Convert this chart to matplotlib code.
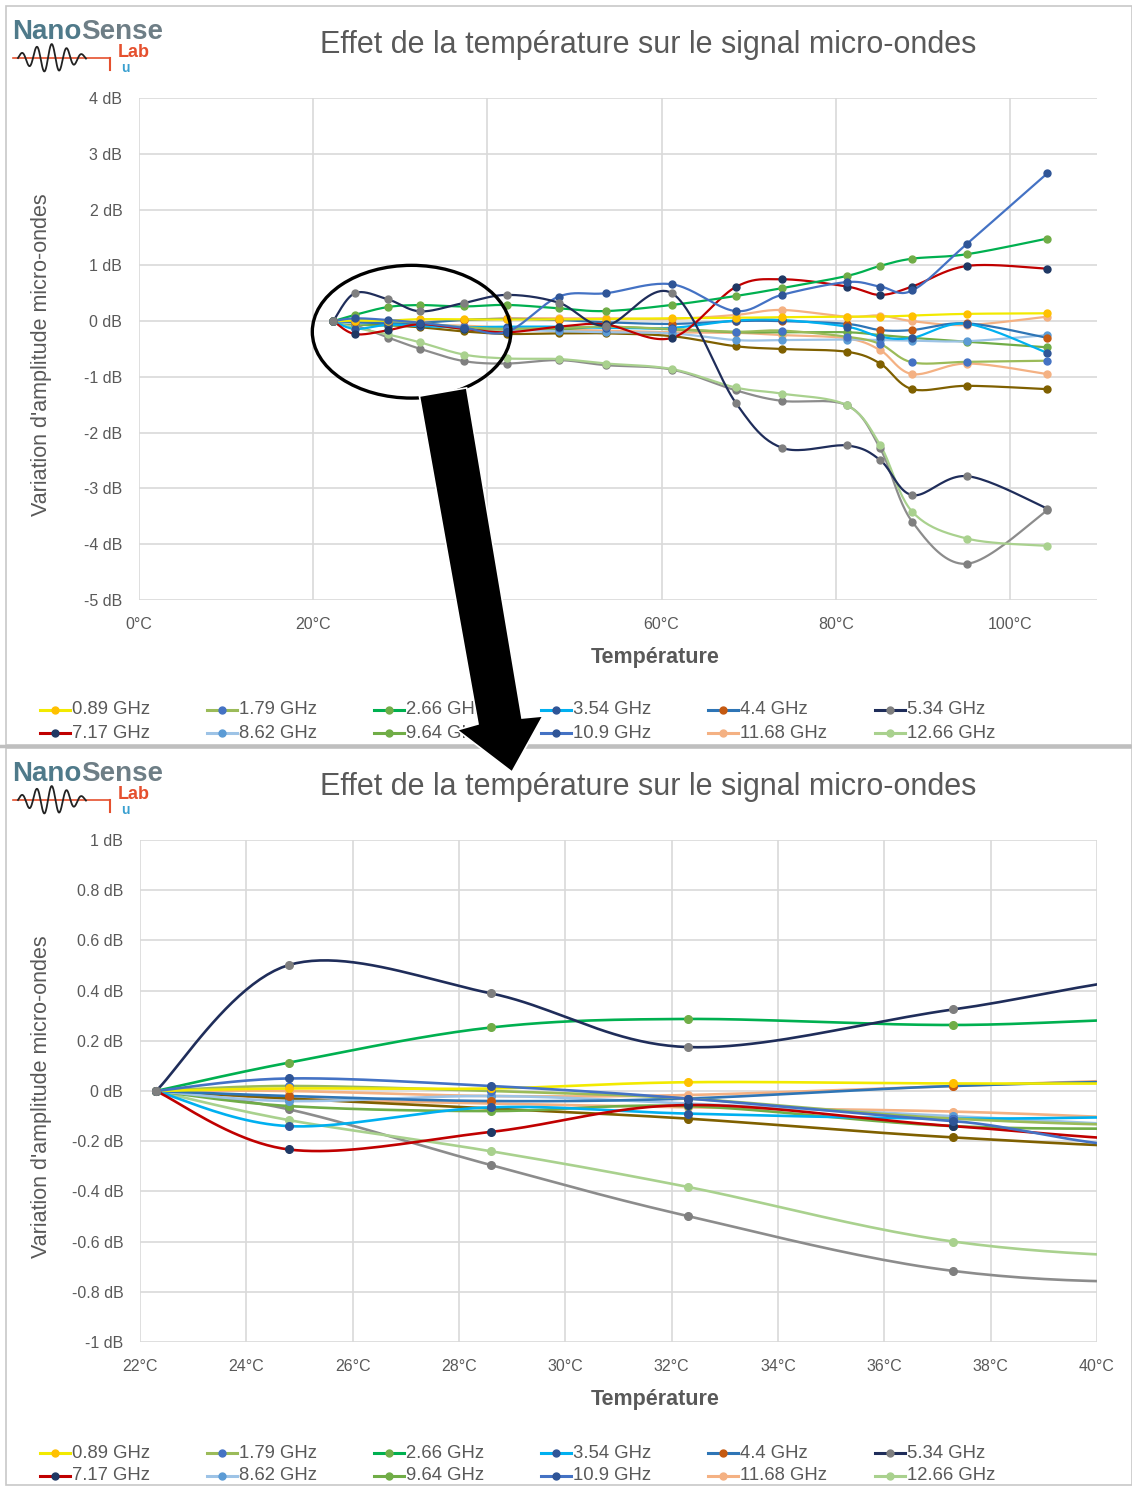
import numpy as np
import matplotlib
matplotlib.use("Agg")
import matplotlib.pyplot as plt
from matplotlib.lines import Line2D
from matplotlib.patches import Ellipse, Polygon, Rectangle

plt.rcParams['font.family'] = ['Liberation Sans', 'DejaVu Sans']

# ---------------- data ----------------
temperatures = [22.3, 24.8, 28.6, 32.3, 37.3, 42.3, 48.2, 53.6, 61.2, 68.5, 73.8, 81.3, 85.1, 88.8, 95.1, 104.3]

ghz_0_89 = [0, 0.01, 0.01, 0.035, 0.03, 0.03, 0.03, 0.04, 0.05, 0.06, 0.07, 0.08, 0.08, 0.10, 0.13, 0.14]
ghz_1_79 = [0, 0.02, 0.0, -0.03, -0.11, -0.14, -0.12, -0.10, -0.14, -0.19, -0.17, -0.28, -0.41, -0.74, -0.73, -0.71]
ghz_2_66 = [0, 0.113, 0.253, 0.287, 0.263, 0.29, 0.23, 0.18, 0.29, 0.45, 0.59, 0.81, 0.99, 1.12, 1.20, 1.48]
ghz_3_54 = [0, -0.14, -0.065, -0.09, -0.11, -0.10, -0.10, -0.12, -0.12, 0.01, 0.02, -0.10, -0.28, -0.30, -0.05, -0.57]
ghz_4_4 = [0, -0.02, -0.04, -0.03, 0.02, 0.04, 0.02, -0.02, -0.05, 0.0, 0.0, -0.05, -0.16, -0.16, -0.04, -0.30]
ghz_5_34 = [0, 0.502, 0.389, 0.175, 0.325, 0.47, 0.33, -0.08, 0.50, -1.46, -2.27, -2.23, -2.49, -3.12, -2.78, -3.36]
ghz_7_17 = [0, -0.233, -0.163, -0.056, -0.14, -0.20, -0.10, -0.06, -0.30, 0.61, 0.75, 0.62, 0.47, 0.62, 0.99, 0.94]
ghz_8_62 = [0, -0.04, -0.02, -0.05, -0.10, -0.15, -0.18, -0.20, -0.22, -0.34, -0.34, -0.33, -0.34, -0.35, -0.36, -0.25]
ghz_9_64 = [0, -0.06, -0.08, -0.06, -0.14, -0.15, -0.15, -0.10, -0.15, -0.20, -0.20, -0.20, -0.25, -0.30, -0.37, -0.47]
ghz_10_9 = [0, 0.05, 0.02, -0.03, -0.12, -0.19, 0.44, 0.50, 0.66, 0.18, 0.47, 0.70, 0.62, 0.55, 1.39, 2.65]
ghz_11_68 = [0, 0.0, -0.02, -0.016, 0.02, 0.05, 0.05, 0.05, 0.04, 0.11, 0.20, 0.08, 0.10, 0.0, -0.07, 0.08]
ghz_12_66 = [0, -0.116, -0.24, -0.382, -0.60, -0.67, -0.68, -0.76, -0.86, -1.19, -1.30, -1.51, -2.22, -3.42, -3.90, -4.03]
# series drawn in the chart but not listed in its legend
hors_legende_brun = [0, -0.03, -0.07, -0.11, -0.185, -0.23, -0.22, -0.22, -0.27, -0.45, -0.50, -0.55, -0.76, -1.22, -1.16, -1.22]
hors_legende_gris = [0, -0.073, -0.295, -0.498, -0.717, -0.76, -0.70, -0.79, -0.87, -1.24, -1.43, -1.51, -2.28, -3.60, -4.35, -3.39]
hors_legende_saumon = [0, -0.03, -0.05, -0.065, -0.082, -0.12, -0.15, -0.17, -0.20, -0.21, -0.25, -0.31, -0.52, -0.95, -0.76, -0.95]

legend_labels = ["0.89 GHz", "1.79 GHz", "2.66 GHz", "3.54 GHz", "4.4 GHz", "5.34 GHz",
                 "7.17 GHz", "8.62 GHz", "9.64 GHz", "10.9 GHz", "11.68 GHz", "12.66 GHz"]

top_xticks = [0, 20, 40, 60, 80, 100]
top_xticklabels = ["0°C", "20°C", "40°C", "60°C", "80°C", "100°C"]
top_yticks = [-5, -4, -3, -2, -1, 0, 1, 2, 3, 4]
top_yticklabels = ["-5 dB", "-4 dB", "-3 dB", "-2 dB", "-1 dB", "0 dB", "1 dB", "2 dB", "3 dB", "4 dB"]
bot_xticks = [22, 24, 26, 28, 30, 32, 34, 36, 38, 40]
bot_xticklabels = ["22°C", "24°C", "26°C", "28°C", "30°C", "32°C", "34°C", "36°C", "38°C", "40°C"]
bot_yticks = [-1, -0.8, -0.6, -0.4, -0.2, 0, 0.2, 0.4, 0.6, 0.8, 1]
bot_yticklabels = ["-1 dB", "-0.8 dB", "-0.6 dB", "-0.4 dB", "-0.2 dB", "0 dB",
                   "0.2 dB", "0.4 dB", "0.6 dB", "0.8 dB", "1 dB"]

title_text = "Effet de la température sur le signal micro-ondes"
xlabel_text = "Température"
ylabel_text = "Variation d'amplitude micro-ondes"

# ---------------- styles ----------------
# (values, line colour, marker colour, legend label or None)
series = [
    (hors_legende_saumon, '#F4B183', '#F4B183', None),
    (hors_legende_brun, '#7F6000', '#7F6000', None),
    (hors_legende_gris, '#8C8C8C', '#7F7F7F', None),
    (ghz_12_66, '#A9D18E', '#A9D18E', legend_labels[11]),
    (ghz_11_68, '#F4B183', '#F4B183', legend_labels[10]),
    (ghz_9_64, '#70AD47', '#70AD47', legend_labels[8]),
    (ghz_8_62, '#9DC3E6', '#5B9BD5', legend_labels[7]),
    (ghz_4_4, '#2E75B6', '#C55A11', legend_labels[4]),
    (ghz_3_54, '#00B0F0', '#2F5597', legend_labels[3]),
    (ghz_1_79, '#9BBB59', '#4472C4', legend_labels[1]),
    (ghz_0_89, '#F2EA00', '#FFC000', legend_labels[0]),
    (ghz_7_17, '#C00000', '#1F3864', legend_labels[6]),
    (ghz_2_66, '#00B050', '#70AD47', legend_labels[2]),
    (ghz_10_9, '#4472C4', '#2F5597', legend_labels[9]),
    (ghz_5_34, '#1F2D5A', '#7F7F7F', legend_labels[5]),
]
style_by_label = {lab: (lc, mc) for (_, lc, mc, lab) in series if lab}

W, H = 1132, 1486
fig = plt.figure(figsize=(W / 100, H / 100), dpi=100)
fig.patch.set_facecolor('white')


def fx(x):
    return x / W


def fy(y):
    return 1 - y / H


def smooth(x, y, n=24):
    x = np.asarray(x, float)
    y = np.asarray(y, float)
    px = np.concatenate([[x[0]], x, [x[-1]]])
    py = np.concatenate([[y[0]], y, [y[-1]]])
    xs, ys = [], []
    t = np.linspace(0, 1, n)
    for i in range(len(x) - 1):
        p0 = np.array([px[i], py[i]]); p1 = np.array([px[i + 1], py[i + 1]])
        p2 = np.array([px[i + 2], py[i + 2]]); p3 = np.array([px[i + 3], py[i + 3]])
        c1 = p1 + (p2 - p0) / 6.0
        c2 = p2 - (p3 - p1) / 6.0
        b = ((1 - t) ** 3)[:, None] * p1 + (3 * (1 - t) ** 2 * t)[:, None] * c1 + \
            (3 * (1 - t) * t ** 2)[:, None] * c2 + (t ** 3)[:, None] * p2
        xs.append(b[:, 0]); ys.append(b[:, 1])
    return np.concatenate(xs), np.concatenate(ys)


def style_axes(ax, xlim, ylim, xt, xtl, yt, ytl):
    ax.set_xlim(*xlim)
    ax.set_ylim(*ylim)
    ax.set_xticks(xt)
    ax.set_xticklabels(xtl)
    ax.set_yticks(yt)
    ax.set_yticklabels(ytl)
    for s in ax.spines.values():
        s.set_visible(False)
    ax.grid(True, color='#D9D9D9', lw=1.2)
    ax.set_axisbelow(True)
    ax.tick_params(length=0, labelsize=11.5, labelcolor='#595959', pad=12)


def draw_series(ax, lw, ms):
    for vals, lc, mc, lab in series:
        sx, sy = smooth(temperatures, vals)
        ax.plot(sx, sy, color=lc, lw=lw, solid_capstyle='round', zorder=3)
        ax.plot(temperatures, vals, ls='none', marker='o', ms=ms, color=mc, zorder=4)


def draw_logo(oy):
    t1 = fig.text(fx(12), fy(39 + oy), "Nano", fontsize=20, fontweight='bold',
                  color='#4F7A8A', va='baseline')
    fig.canvas.draw()
    bb = t1.get_window_extent(renderer=fig.canvas.get_renderer())
    fig.text(bb.x1 / W, fy(39 + oy), "Sense", fontsize=20, fontweight='bold',
             color='#6E7E86', va='baseline')
    fig.text(fx(118), fy(57 + oy), "Lab", fontsize=13, fontweight='bold', color='#E5502E',
             va='baseline')
    fig.text(fx(121), fy(72 + oy), "u", fontsize=10, fontweight='bold', color='#3AA0D0',
             va='baseline')
    fig.add_artist(Line2D([fx(13), fx(110)], [fy(58 + oy), fy(58 + oy)], color='#E5502E', lw=1.2))
    fig.add_artist(Line2D([fx(110), fx(110)], [fy(58 + oy), fy(70 + oy)], color='#E5502E', lw=1.5))
    wx = np.linspace(18, 86, 200)
    wy = 58 - 14 * np.sin(2 * np.pi * (wx - 18) / 15.0) * np.exp(-((wx - 50) / 28) ** 2)
    fig.add_artist(Line2D(fx(wx), fy(wy + oy), color='#222222', lw=1.3))


def draw_panel_texts(oy, ycenter):
    fig.text(fx(648), fy(45 + oy), title_text, fontsize=22, color='#595959',
             ha='center', va='center')
    fig.text(fx(655), fy(658 + oy), xlabel_text, fontsize=15.5, fontweight='bold',
             color='#595959', ha='center', va='center')
    fig.text(fx(42), fy(ycenter), ylabel_text, fontsize=15.5, color='#595959',
             rotation=90, ha='center', va='center')


def draw_legend(y1):
    for i, lab in enumerate(legend_labels):
        r, c = divmod(i, 6)
        x0 = 40 + 167 * c
        yy = y1 + 23 * r
        lc, mc = style_by_label[lab]
        fig.add_artist(Line2D([fx(x0), fx(x0 + 30)], [fy(yy), fy(yy)], color=lc, lw=2.2))
        fig.add_artist(Line2D([fx(x0 + 15)], [fy(yy)], marker='o', ms=5, color=mc, lw=0))
        fig.text(fx(x0 + 32), fy(yy), lab, fontsize=13.3, color='#595959', va='center', ha='left')


# panel frames
fig.add_artist(Rectangle((fx(6), fy(745)), fx(1126), 739 / H, fill=False,
                         edgecolor='#C8C8C8', lw=1.2, transform=fig.transFigure))
fig.add_artist(Rectangle((fx(6), fy(1485)), fx(1126), 737 / H, fill=False,
                         edgecolor='#C8C8C8', lw=1.2, transform=fig.transFigure))
fig.add_artist(Line2D([fx(0), fx(1132)], [fy(746), fy(746)], color='#BFBFBF', lw=2.5))

# ---------------- top chart ----------------
ax1 = fig.add_axes([fx(139), fy(600), (1097 - 139) / W, 502 / H])
style_axes(ax1, (0, 110), (-5, 4), top_xticks, top_xticklabels, top_yticks, top_yticklabels)
draw_series(ax1, lw=1.6, ms=5)
ax1.add_patch(Ellipse((31.3, -0.19), 22.8, 2.38, fill=False, edgecolor='black', lw=2.4,
                      zorder=8, clip_on=False))

# ---------------- bottom chart ----------------
ax2 = fig.add_axes([fx(140), fy(1342), (1097 - 140) / W, 502 / H])
style_axes(ax2, (22, 40), (-1, 1), bot_xticks, bot_xticklabels, bot_yticks, bot_yticklabels)
draw_series(ax2, lw=1.9, ms=5.5)

draw_logo(0)
draw_logo(742)
draw_panel_texts(0, 355)
draw_panel_texts(742, 1097)
draw_legend(710)
draw_legend(1453)

# ---------------- big zoom arrow ----------------
arrow_px = [(419.4, 396.1), (466.6, 387.9), (522.0, 718.0), (543.0, 716.0),
            (512, 772), (457.0, 730.0), (478.0, 724.0)]
fig.add_artist(Polygon([(fx(a), fy(b)) for a, b in arrow_px], closed=True,
                       facecolor='black', edgecolor='white', lw=1.2,
                       transform=fig.transFigure, zorder=20))

fig.savefig("out.png", dpi=100)
